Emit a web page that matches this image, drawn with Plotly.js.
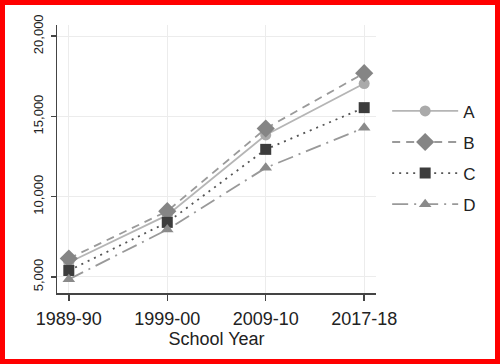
<!DOCTYPE html>
<html>
<head>
<meta charset="utf-8">
<script src="https://cdn.plot.ly/plotly-3.0.1.min.js"></script>
<style>
html,body{margin:0;padding:0;background:#ff0000;}
#wrap{position:absolute;left:0;top:0;width:500px;height:364px;box-sizing:border-box;border:5px solid #ff0000;background:#fff;}
#chart{width:490px;height:354px;}
</style>
</head>
<body>
<div id="wrap"><div id="chart"></div></div>
<script>
const years = ["1989-90", "1999-00", "2009-10", "2017-18"];
const seriesA = [5900, 8850, 13850, 17050];
const seriesB = [6150, 9100, 14250, 17700];
const seriesC = [5400, 8400, 12950, 15550];
const seriesD = [4850, 7950, 11800, 14300];
const yTickVals = [5000, 10000, 15000, 20000];
const yTickText = ["5,000", "10,000", "15,000", "20,000"];

const xIdx = years.map((_, i) => i);

function tr(name, y, lineColor, dash, symbol, mColor, mSize) {
  return {
    type: 'scatter', mode: 'lines+markers', name: name, x: xIdx, y: y,
    legendgroup: name,
    line: {color: lineColor, width: 1.8, dash: dash},
    marker: {symbol: symbol, color: mColor, size: mSize, line: {width: 0}},
    hoverinfo: 'skip'
  };
}

const data = [
  tr('A', seriesA, '#b5b5b5', 'solid', 'circle', '#aaaaaa', 11),
  tr('B', seriesB, '#9a9a9a', '8px,6px', 'diamond', '#858585', 14),
  tr('C', seriesC, '#555555', '2px,5px', 'square', '#3c3c3c', 11),
  tr('D', seriesD, '#999999', '16px,6px,2px,6px', 'triangle-up', '#8a8a8a', 11)
];

const layout = {
  width: 490, height: 354,
  margin: {l: 52, r: 119, t: 20, b: 66},
  paper_bgcolor: '#fff', plot_bgcolor: '#fff',
  font: {family: 'Liberation Sans, Arial, sans-serif', color: '#222'},
  showlegend: true,
  legend: {
    x: 1.035, y: 0.745, xanchor: 'left', yanchor: 'top',
    font: {size: 17, color: '#222'},
    itemwidth: 66,
    tracegroupgap: 6,
    bgcolor: 'rgba(0,0,0,0)'
  },
  xaxis: {
    range: [-0.12, 3.12],
    tickmode: 'array', tickvals: xIdx, ticktext: years,
    showgrid: true, gridcolor: '#ececec', gridwidth: 1,
    zeroline: false,
    showline: true, linecolor: '#444', linewidth: 1.5,
    ticks: 'outside', ticklen: 6, tickwidth: 1.5, tickcolor: '#444',
    ticklabelstandoff: 3,
    tickfont: {size: 18, color: '#222'},
    title: {text: 'School Year', font: {size: 18, color: '#222'}, standoff: 2},
    fixedrange: true
  },
  yaxis: {
    range: [4000, 20700],
    tickmode: 'array', tickvals: yTickVals, ticktext: yTickText,
    tickangle: -90,
    showgrid: true, gridcolor: '#ececec', gridwidth: 1,
    zeroline: false,
    showline: true, linecolor: '#444', linewidth: 1.5,
    ticks: 'outside', ticklen: 5, tickwidth: 1.5, tickcolor: '#444',
    ticklabelstandoff: 2,
    tickfont: {size: 13, color: '#222'},
    fixedrange: true
  }
};

Plotly.newPlot('chart', data, layout, {displayModeBar: false, staticPlot: true});
</script>
</body>
</html>
